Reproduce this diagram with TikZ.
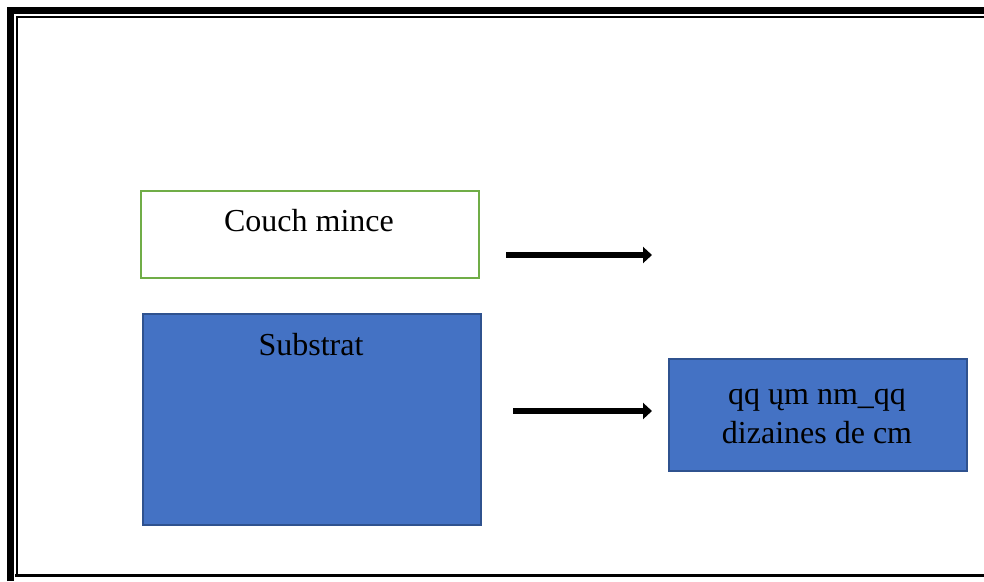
\documentclass[tikz,border=0pt]{standalone}
\usepackage{fontspec}
\setmainfont{Liberation Serif}
\usetikzlibrary{arrows.meta}
\definecolor{greenedge}{HTML}{70AD47}
\definecolor{bluefill}{HTML}{4472C4}
\definecolor{blueedge}{HTML}{2F528F}
\tikzset{
  framethick/.style={line width=7pt, line cap=butt, line join=miter},
  framethin/.style={line width=2pt, line join=miter},
  layerbox/.style={line width=2.2pt, line join=miter},
  boxtext/.style={font=\fontsize{32}{32}\selectfont, inner sep=0pt, anchor=base},
  bigarrow/.style={line width=5.5pt, -{Triangle[length=9pt, width=16pt]}},
}
\begin{document}
\begin{tikzpicture}[x=1pt, y=-1pt]
  \useasboundingbox (0,0) rectangle (984,581);

  % page border: thick outer rule and thin inner rule
  \draw[framethick] (10.5,581) -- (10.5,10.5) -- (984,10.5);
  \draw[framethin] (16.5,575) -- (16.5,16.5) -- (984,16.5);
  \draw[line width=3pt] (15,575.5) -- (984,575.5);

  % thin film layer
  \draw[layerbox, draw=greenedge, fill=white] (141,191) rectangle (479,278);
  \node[boxtext] (couche) at (309,231) {Couch mince};

  % substrate
  \draw[layerbox, draw=blueedge, fill=bluefill] (143,314) rectangle (481,525);
  \node[boxtext] (substrat) at (311,355) {Substrat};

  % thickness box
  \draw[layerbox, draw=blueedge, fill=bluefill] (669,359) rectangle (967,471);
  \node[boxtext] (epa) at (817,404) {qq ųm nm\_qq};
  \node[boxtext] (epb) at (817,443) {dizaines de cm};

  % arrows
  \coordinate (a1s) at (506,255);
  \coordinate (a1e) at (652,255);
  \coordinate (a2s) at (513,411);
  \coordinate (a2e) at (652,411);
  \draw[bigarrow] (a1s) -- (a1e);
  \draw[bigarrow] (a2s) -- (a2e);
\end{tikzpicture}
\end{document}
